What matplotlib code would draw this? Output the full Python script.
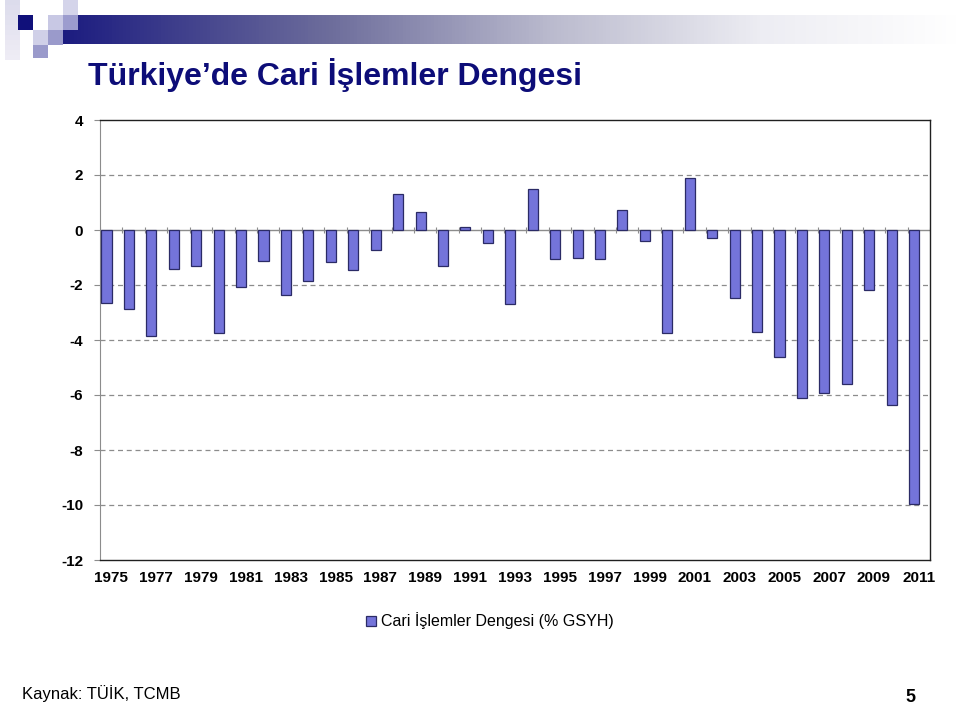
import numpy as np
import matplotlib.pyplot as plt
from matplotlib.patches import Rectangle
from matplotlib.colors import LinearSegmentedColormap

plt.rcParams['font.family'] = ['Liberation Sans', 'DejaVu Sans']

years = list(range(1975, 2012))
balance = [-2.65, -2.86, -3.85, -1.43, -1.30, -3.76, -2.06, -1.13, -2.38, -1.84,
           -1.15, -1.45, -0.72, 1.30, 0.64, -1.31, 0.11, -0.49, -2.69, 1.48,
           -1.04, -1.01, -1.05, 0.73, -0.39, -3.73, 1.90, -0.28, -2.47, -3.70,
           -4.63, -6.12, -5.91, -5.59, -2.18, -6.38, -9.98]
series_name = 'Cari İşlemler Dengesi (% GSYH)'
title = 'Türkiye\u2019de Cari İşlemler Dengesi'

bar_color = '#7474da'
edge_color = '#2b2b66'
navy = '#0d0d78'

fig = plt.figure(figsize=(9.6, 7.05), dpi=100)
W, H = 960, 705


def px_rect(x, y, w, h, color, **kw):
    # rectangle in pixel coords measured from the top-left corner
    fig.add_artist(Rectangle((x / W, 1 - (y + h) / H), w / W, h / H,
                             transform=fig.transFigure, color=color, lw=0, **kw))


# header decoration
for i in range(12):
    px_rect(5, i * 5, 15, 5, plt.cm.Purples(0.12 + 0.01 * (12 - i)))
px_rect(18, 15, 15, 15, '#10107a')
px_rect(63, 0, 15, 15, '#d4d4ea')
px_rect(48, 15, 15, 15, '#c8c8e4')
px_rect(33, 30, 15, 15, '#d0d0e8')
px_rect(48, 30, 15, 15, '#9a9acb')
px_rect(33, 45, 15, 13, '#9a9acb')
px_rect(63, 15, 15, 15, '#9c9cce')

cmap = LinearSegmentedColormap.from_list(
    'hdr', [(0, '#1c1c80'), (0.3, '#6e6e9c'), (0.55, '#bcbccf'),
            (0.78, '#ededf3'), (1, '#ffffff')])
grad_ax = fig.add_axes([63 / W, 1 - 44 / H, (960 - 63) / W, 29 / H])
grad_ax.imshow(np.linspace(0, 1, 256)[None, :], aspect='auto', cmap=cmap)
grad_ax.axis('off')

fig.text(88 / W, 1 - 75 / H, title, fontsize=23, fontweight='bold', color=navy,
         va='center', ha='left')

ax = fig.add_axes([100 / W, 1 - 560 / H, 830 / W, 440 / H])
x = np.arange(len(years))
# bars sit a little left of the category centre, as in the original chart
bars = ax.bar(x - 0.21, balance, width=0.45, color=bar_color, edgecolor=edge_color,
              linewidth=0.9, label=series_name, zorder=3)

ax.set_xlim(-0.5, len(years) - 0.5)
ax.set_ylim(-12, 4)
ax.set_yticks(range(-12, 5, 2))
ax.set_yticklabels([str(v) for v in range(-12, 5, 2)], fontsize=11, fontweight='bold')
for v in range(-10, 4, 2):
    if v != 0:
        ax.axhline(v, color='#8c8c8c', lw=0.9, ls=(0, (4, 3)), zorder=1)
ax.axhline(0, color='#8c8c8c', lw=1.0, zorder=2)
ax.vlines(np.arange(len(years) + 1) - 0.5, -0.12, 0.12, color='#8c8c8c', lw=0.8, zorder=2)

ax.set_xticks(x[::2])
ax.set_xticklabels([str(y) for y in years[::2]], fontsize=11, fontweight='bold')
ax.tick_params(axis='x', length=0, pad=8)
ax.tick_params(axis='y', length=4, color='#8c8c8c', pad=8)
for side in ['top', 'right', 'bottom']:
    ax.spines[side].set_color('#202020')
    ax.spines[side].set_linewidth(1.0)
ax.spines['left'].set_color('#8c8c8c')

fig.legend(handles=[bars], labels=[series_name], loc='center left',
           bbox_to_anchor=(352 / W, 1 - 621 / H), frameon=False, fontsize=11.5,
           handlelength=0.6, handleheight=0.6, handletextpad=0.3)

fig.text(22 / W, 1 - 694 / H, 'Kaynak: TÜİK, TCMB', fontsize=12, va='center', ha='left')
fig.text(910 / W, 1 - 697 / H, '5', fontsize=13, fontweight='bold', va='center', ha='center')

fig.savefig('out.png', dpi=100)
